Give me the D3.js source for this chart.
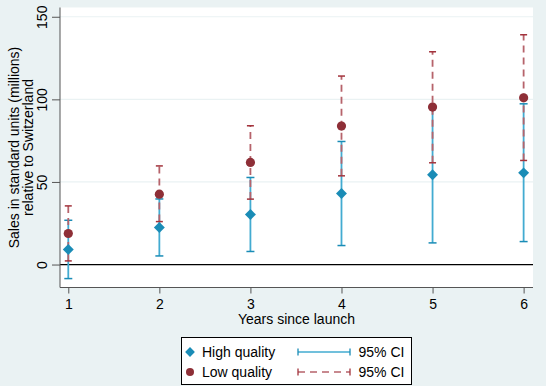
<!DOCTYPE html>
<html>
<head>
<meta charset="utf-8">
<script src="https://cdn.jsdelivr.net/npm/d3@7"></script>
<style>
  body { margin: 0; background: #eaf2f3; }
  svg { display: block; font-family: "Liberation Sans", Arial, sans-serif; }
</style>
</head>
<body>
<svg id="chart" width="546" height="386"></svg>
<script>
// data
const years = [1, 2, 3, 4, 5, 6];
const highMean = [9.1, 22.4, 30.3, 43.0, 54.3, 55.5];
const highLo = [-8.5, 5.2, 7.9, 11.5, 13.1, 13.9];
const highHi = [26.8, 39.7, 52.7, 74.5, 95.0, 97.3];
const lowMean = [18.8, 42.6, 61.8, 83.8, 95.3, 100.9];
const lowLo = [2.2, 26.0, 39.6, 53.7, 61.6, 63.0];
const lowHi = [35.5, 59.7, 84.0, 114.1, 128.8, 139.1];
const yTicks = [0, 50, 100, 150];
const legendLabels = ['High quality', 'Low quality'];

const blue = '#1a8cb6', blueLine = '#42abd1';
const red = '#8e2f37', redLine = '#b6636b', redCap = '#a3333c';
const fs = 14;

const svg = d3.select('#chart');
const plot = { left: 60, right: 533, top: 7.5, bottom: 287.5 };

const x = d3.scaleLinear().domain([0.909, 6.103]).range([plot.left, plot.right]);
const y = d3.scaleLinear().domain([-13.9, 155.6]).range([plot.bottom, plot.top]);

// background and plot region
svg.append('rect').attr('width', 546).attr('height', 386).attr('fill', '#eaf2f3');
svg.append('rect')
    .attr('x', plot.left).attr('y', plot.top)
    .attr('width', plot.right - plot.left).attr('height', plot.bottom - plot.top)
    .attr('fill', '#fff');

// grid lines
svg.selectAll('.grid')
    .data(yTicks.filter(d => d !== 0))
    .enter().append('line')
    .attr('x1', plot.left).attr('x2', plot.right)
    .attr('y1', d => y(d)).attr('y2', d => y(d))
    .attr('stroke', '#eaf2f3').attr('stroke-width', 1.2);

// zero line
svg.append('line')
    .attr('x1', plot.left).attr('x2', plot.right)
    .attr('y1', y(0)).attr('y2', y(0))
    .attr('stroke', '#000').attr('stroke-width', 1.2);

// y axis
const yAxis = svg.append('g').attr('transform', `translate(${plot.left},0)`)
    .call(d3.axisLeft(y).tickValues(yTicks).tickSize(8).tickSizeOuter(0));
yAxis.select('.domain').attr('stroke', '#555').attr('d', `M0,${plot.top}V${plot.bottom}`);
yAxis.selectAll('.tick line').attr('stroke', '#555');
yAxis.selectAll('.tick text').remove();
yAxis.selectAll('.tick').append('text')
    .attr('transform', 'translate(-13,0) rotate(-90)')
    .attr('text-anchor', 'middle')
    .attr('fill', '#000').attr('font-size', fs)
    .text(d => d);

// x axis
const xAxis = svg.append('g').attr('transform', `translate(0,${plot.bottom})`)
    .call(d3.axisBottom(x).tickValues(years).tickFormat(d3.format('d')).tickSize(6).tickSizeOuter(0));
xAxis.select('.domain').attr('stroke', '#555').attr('d', `M${plot.left},0H${plot.right}`);
xAxis.selectAll('.tick line').attr('stroke', '#555');
xAxis.selectAll('.tick text').attr('y', 0).attr('dy', 21.5)
    .attr('fill', '#000').attr('font-size', fs).attr('font-family', null);

// axis titles
svg.append('text')
    .attr('x', (plot.left + plot.right) / 2).attr('y', 324)
    .attr('text-anchor', 'middle').attr('font-size', fs)
    .text('Years since launch');
const yt = svg.append('text')
    .attr('transform', `translate(0,${(plot.top + plot.bottom) / 2}) rotate(-90)`)
    .attr('text-anchor', 'middle').attr('font-size', fs);
yt.append('tspan').attr('x', 0).attr('y', 18.5).text('Sales in standard units (millions)');
yt.append('tspan').attr('x', 0).attr('y', 33).text('relative to Switzerland');

// error bars
function ciBars(lo, hi, color, capColor, capW, dash) {
    const g = svg.append('g');
    g.selectAll('line.ci')
        .data(years)
        .enter().append('line')
        .attr('x1', d => x(d)).attr('x2', d => x(d))
        .attr('y1', (d, i) => y(lo[i])).attr('y2', (d, i) => y(hi[i]))
        .attr('stroke', color).attr('stroke-width', 1.8)
        .attr('stroke-dasharray', dash);
    [lo, hi].forEach(vals => {
        g.selectAll(null)
            .data(years)
            .enter().append('line')
            .attr('x1', d => x(d) - capW / 2).attr('x2', d => x(d) + capW / 2)
            .attr('y1', (d, i) => y(vals[i])).attr('y2', (d, i) => y(vals[i]))
            .attr('stroke', capColor).attr('stroke-width', 1.5);
    });
}
ciBars(highLo, highHi, blueLine, blue, 8, null);
ciBars(lowLo, lowHi, redLine, redCap, 7, '7,5');

// markers (diamond = rotated square)
const diamond = d3.symbol().type(d3.symbolSquare).size(60);
svg.selectAll('.hi')
    .data(years)
    .enter().append('path')
    .attr('d', diamond)
    .attr('transform', (d, i) => `translate(${x(d)},${y(highMean[i])}) rotate(45)`)
    .attr('fill', blue);
svg.selectAll('.lo')
    .data(years)
    .enter().append('circle')
    .attr('cx', d => x(d)).attr('cy', (d, i) => y(lowMean[i]))
    .attr('r', 4.6)
    .attr('fill', red);

// legend
const lg = svg.append('g');
lg.append('rect')
    .attr('x', 181.5).attr('y', 337.5).attr('width', 230).attr('height', 47)
    .attr('fill', '#fff').attr('stroke', '#000').attr('stroke-width', 1);
const rows = [352, 372];
lg.append('path').attr('d', d3.symbol().type(d3.symbolSquare).size(48))
    .attr('transform', `translate(190,${rows[0]}) rotate(45)`).attr('fill', blue);
lg.append('circle').attr('cx', 190).attr('cy', rows[1]).attr('r', 4).attr('fill', red);
legendLabels.forEach((t, i) => {
    lg.append('text').attr('x', 202).attr('y', rows[i] + 5).attr('font-size', fs).text(t);
    lg.append('text').attr('x', 358.5).attr('y', rows[i] + 5).attr('font-size', fs).text('95% CI');
});
const samples = [[blueLine, blue, null], [redLine, redCap, '7,5']];
samples.forEach(([c, cc, dash], i) => {
    lg.append('line').attr('x1', 298).attr('x2', 350).attr('y1', rows[i]).attr('y2', rows[i])
        .attr('stroke', c).attr('stroke-width', 1.6).attr('stroke-dasharray', dash);
    [298, 350].forEach(px => {
        lg.append('line').attr('x1', px).attr('x2', px)
            .attr('y1', rows[i] - 3.5).attr('y2', rows[i] + 3.5)
            .attr('stroke', cc).attr('stroke-width', 1.3);
    });
});
</script>
</body>
</html>
